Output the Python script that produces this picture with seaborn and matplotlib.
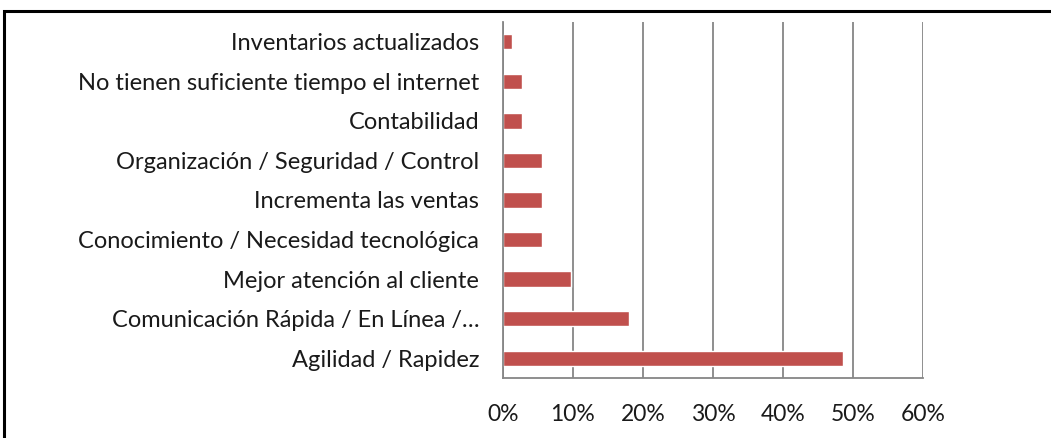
import matplotlib
matplotlib.use("Agg")
import matplotlib.pyplot as plt
import seaborn as sns
import pandas as pd
from matplotlib.patches import Rectangle
from matplotlib.ticker import PercentFormatter

categories = [
    "Inventarios actualizados",
    "No tienen suficiente tiempo el internet",
    "Contabilidad",
    "Organización / Seguridad / Control",
    "Incrementa las ventas",
    "Conocimiento / Necesidad tecnológica",
    "Mejor atención al cliente",
    "Comunicación Rápida / En Línea /…",
    "Agilidad / Rapidez",
]
values = [1.39, 2.78, 2.78, 5.56, 5.56, 5.56, 9.72, 18.06, 48.61]
xticks = [0, 10, 20, 30, 40, 50, 60]

sns.set_theme(style="white")
plt.rcParams["font.family"] = ["Lato", "DejaVu Sans"]

df = pd.DataFrame({"cat": categories, "val": values})

fig = plt.figure(figsize=(10.51, 4.38), dpi=100)
ax = fig.add_axes([0.4783, 0.137, 0.4002, 0.8128])

sns.barplot(data=df, x="val", y="cat", orient="h", color="#C0504D",
            saturation=1, width=0.39, ax=ax)

ax.set_xlim(0, 60)
ax.set_xticks(xticks)
ax.xaxis.set_major_formatter(PercentFormatter(decimals=0))
ax.grid(axis="x", color="#868686", linewidth=1.3)
ax.set_axisbelow(True)
ax.set_xlabel("")
ax.set_ylabel("")
for s in ["top", "right"]:
    ax.spines[s].set_visible(False)
for s in ["left", "bottom"]:
    ax.spines[s].set_color("#868686")
    ax.spines[s].set_linewidth(1.3)
ax.tick_params(axis="x", length=0, pad=19, labelsize=16.5, colors="#1a1a1a")
ax.tick_params(axis="y", length=0, pad=17, labelsize=17, colors="#1a1a1a")
ax.set_ylim(8.5, -0.5)

# outer border (top and left visible)
fig.patches.append(Rectangle((4 / 1051, -0.1), 1.2, 1 - 11 / 438 + 0.1,
                             transform=fig.transFigure, fill=False,
                             edgecolor="black", linewidth=2.2))

fig.savefig("out.png", dpi=100)
